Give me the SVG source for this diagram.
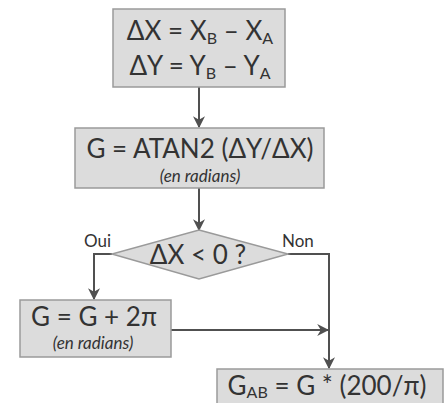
<svg xmlns="http://www.w3.org/2000/svg" width="448" height="403" viewBox="0 0 448 403">
<defs>
<style>
.box{fill:#dcdcdc;stroke:#9a9a9a;stroke-width:1.5}
.t{font-family:Lato,"Open Sans",sans-serif;fill:#333;font-size:26px;text-anchor:middle}
.s{font-family:Lato,"Open Sans",sans-serif;fill:#333;font-size:17px;font-style:italic;text-anchor:middle}
.l{font-family:Lato,"Open Sans",sans-serif;fill:#333;font-size:17px}
.c{fill:none;stroke:#505050;stroke-width:2}
.sub{font-size:16px}
</style>
<marker id="ah" viewBox="0 0 10 10" refX="9" refY="5" markerWidth="12" markerHeight="12" markerUnits="userSpaceOnUse" orient="auto">
<path d="M0,0 L10,5 L0,10 L3,5 Z" fill="#505050"/>
</marker>
</defs>
<rect width="448" height="403" fill="#fff"/>
<g id="connectors">
<line class="c" x1="199" y1="87" x2="199" y2="127" marker-end="url(#ah)"/>
<line class="c" x1="199" y1="188" x2="199" y2="230" marker-end="url(#ah)"/>
<polyline class="c" points="112,254 94,254 94,299" marker-end="url(#ah)"/>
<polyline class="c" points="288,254 329,254 329,368" marker-end="url(#ah)"/>
<line class="c" x1="171" y1="330" x2="328" y2="330" marker-end="url(#ah)"/>
<text class="l" x="84" y="247">Oui</text>
<text class="l" x="282" y="247">Non</text>
</g>
<g id="n1">
<rect class="box" x="113" y="9" width="172" height="78"/>
<text class="t" x="200" y="40">ΔX = X<tspan class="sub" dy="4">B</tspan><tspan dy="-4"> – X</tspan><tspan class="sub" dy="4">A</tspan></text>
<text class="t" x="200" y="75">ΔY = Y<tspan class="sub" dy="4">B</tspan><tspan dy="-4"> – Y</tspan><tspan class="sub" dy="4">A</tspan></text>
</g>
<g id="n2">
<rect class="box" x="75" y="128" width="249" height="60"/>
<text class="t" x="200" y="158">G = ATAN2 (ΔY/ΔX)</text>
<text class="s" x="200" y="182">(en radians)</text>
</g>
<g id="n3">
<polygon class="box" points="199,230 288,254 199,279 112,254"/>
<text class="t" x="198" y="264">ΔX &lt; 0 ?</text>
</g>
<g id="n4">
<rect class="box" x="20" y="300" width="151" height="57"/>
<text class="t" x="94" y="326">G = G + 2π</text>
<text class="s" x="93" y="349">(en radians)</text>
</g>
<g id="n5">
<rect class="box" x="217" y="369" width="226" height="45"/>
<text class="t" x="327" y="395">G<tspan class="sub" dy="3">AB</tspan><tspan dy="-3"> = G * (200/π)</tspan></text>
</g>
</svg>
